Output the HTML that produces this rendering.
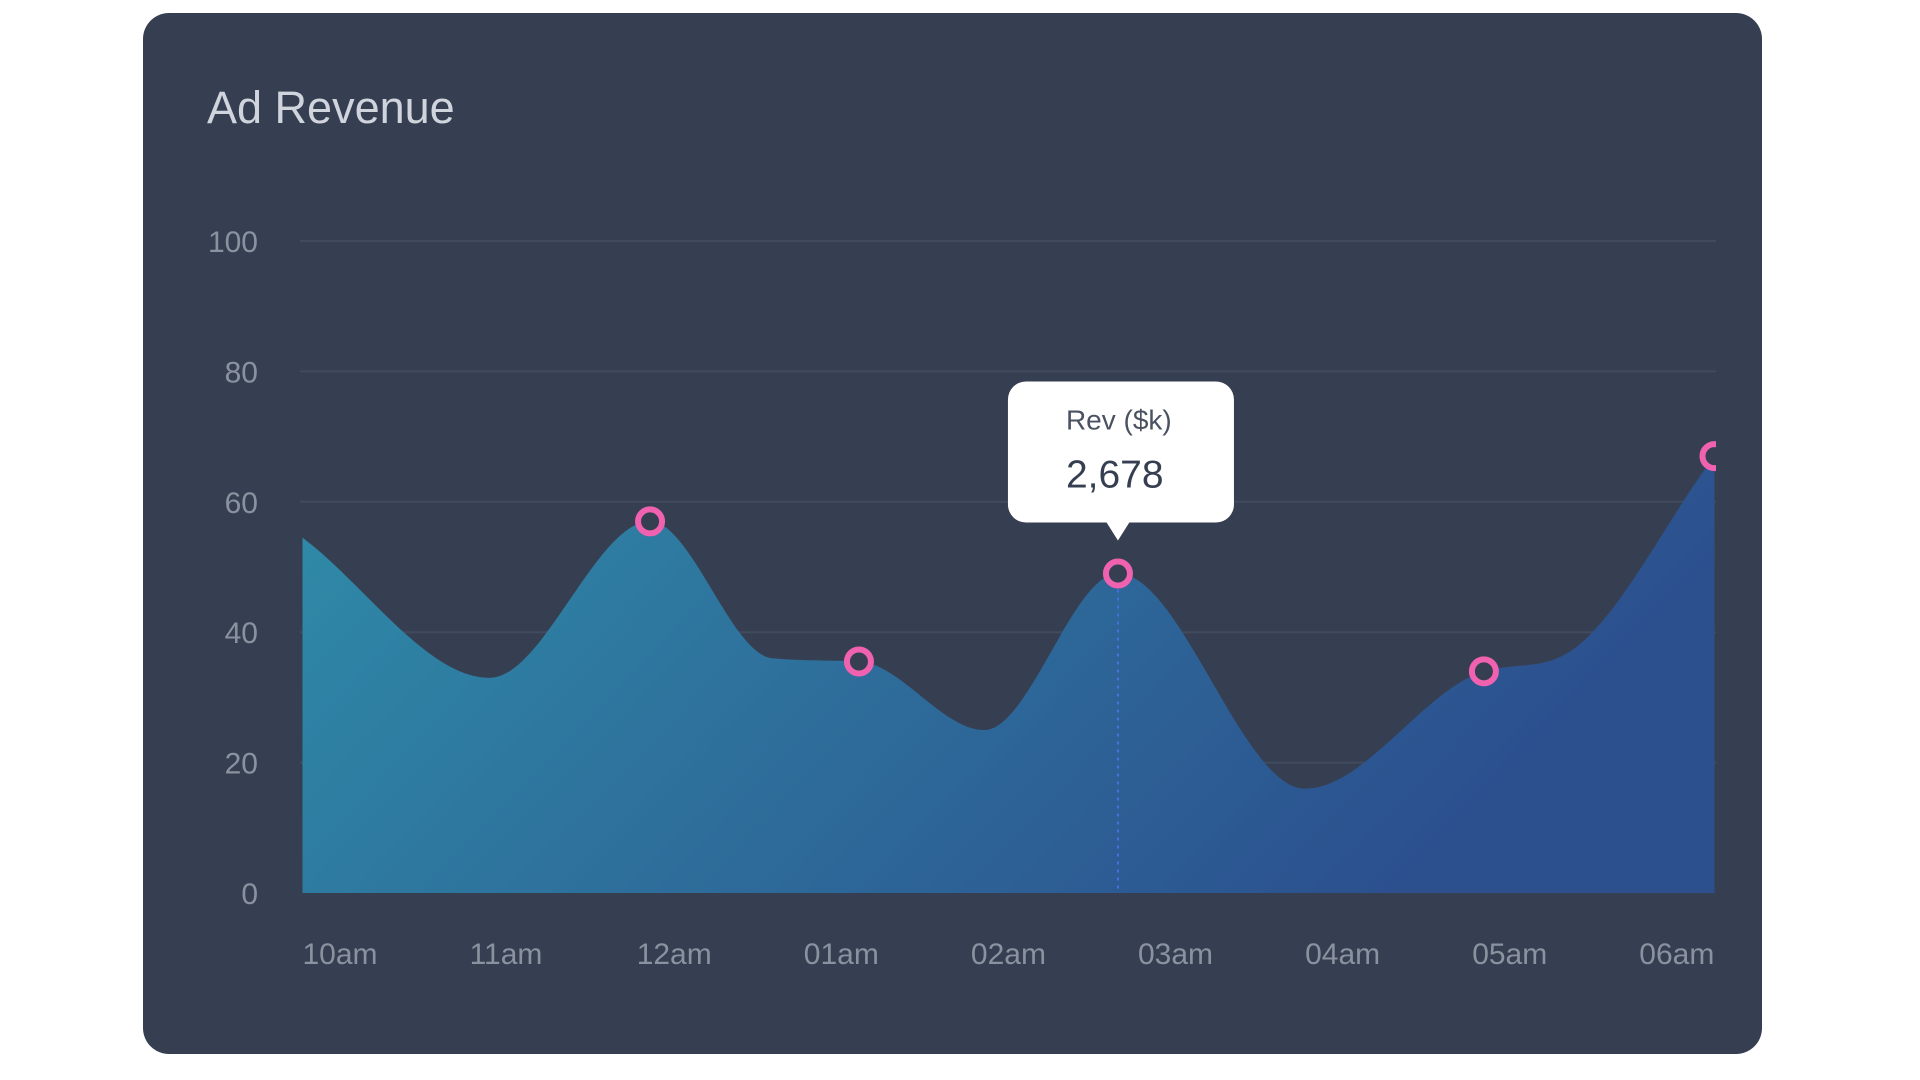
<!DOCTYPE html>
<html><head><meta charset="utf-8"><style>
html,body{margin:0;padding:0;background:#fff;width:1920px;height:1080px;overflow:hidden}
svg{display:block}
text{font-family:"Liberation Sans",sans-serif}
</style></head><body>
<svg id="chart" width="1920" height="1080" viewBox="0 0 1920 1080">
<defs>
<linearGradient id="areaGrad" x1="0" y1="0" x2="1" y2="0.3">
<stop offset="0" stop-color="#2f8ca8"/>
<stop offset="1" stop-color="#2c4f8e"/>
</linearGradient>
<clipPath id="plotClip"><rect x="290" y="200" width="1426" height="720"/></clipPath>
</defs>
<rect x="143" y="13" width="1619" height="1041" rx="26" fill="#363f51"/>
<text x="207" y="123" font-size="45" fill="#d0d4dc">Ad Revenue</text>
<g id="grid"></g>
<g id="yticks"></g>
<g id="xticks"></g>
<g id="series" clip-path="url(#plotClip)"></g>
<g id="tooltip"></g>
</svg>
<script>
const yTicks = [0, 20, 40, 60, 80, 100];
const xLabels = ["10am","11am","12am","01am","02am","03am","04am","05am","06am"];
const pointHours = [0, 1.12, 2.08, 2.81, 3.33, 4.08, 4.88, 6.0, 7.07, 7.55, 8.45];
const revValues = [54.5, 33, 57, 36, 35.5, 25, 49, 16, 34, 36.5, 67];
const markerIdx = [2, 4, 6, 8, 10];
const tooltipIdx = 6;
const tooltipLabel = "Rev ($k)";
const tooltipValue = "2,678";

const NS = "http://www.w3.org/2000/svg";
const X0 = 302.5, XPER = 167.1, XR = 1716;
const Y0 = 893, Y100 = 241;
function xs(h){ return X0 + h * XPER; }
function ys(v){ return Y0 - (v / 100) * (Y0 - Y100); }
function mk(tag, attrs, parent){
  const e = document.createElementNS(NS, tag);
  for (const k in attrs) e.setAttribute(k, attrs[k]);
  parent.appendChild(e); return e;
}
const grid = document.getElementById('grid');
const yt = document.getElementById('yticks');
yTicks.forEach(v => {
  if (v > 0) {
    const l = mk('line', {x1: 300, x2: XR, y1: ys(v), y2: ys(v), stroke: '#414b5e', 'stroke-width': 2}, grid);
    
    
  }
  const t = mk('text', {x: 258, y: ys(v) + 11, 'text-anchor': 'end', 'font-size': 30, fill: '#8a92a0'}, yt);
  t.textContent = v;
  
  
});
const xt = document.getElementById('xticks');
xLabels.forEach((s, i) => {
  const t = mk('text', {x: xs(i), y: 964, 'font-size': 30, fill: '#8a92a0'}, xt);
  t.textContent = s;
  
  
});
// mask for clipped last label
const cover = mk('rect', {x: XR, y: 925, width: 46, height: 50, fill: '#363f51'}, xt);



// monotone cubic
const px = pointHours.map(xs), py = revValues.map(ys);
const n = px.length, d = [], m = [];
for (let i = 0; i < n - 1; i++) d.push((py[i+1]-py[i])/(px[i+1]-px[i]));
for (let i = 0; i < n; i++) {
  if (i === 0) m.push(d[0]); else if (i === n-1) m.push(d[n-2]);
  else m.push(d[i-1]*d[i] <= 0 ? 0 : (d[i-1]+d[i])/2);
}
for (let i = 0; i < n - 1; i++) {
  if (d[i] === 0) { m[i] = 0; m[i+1] = 0; continue; }
  const a = m[i]/d[i], b = m[i+1]/d[i], s = a*a + b*b;
  if (s > 9) { const t = 3/Math.sqrt(s); m[i] = t*a*d[i]; m[i+1] = t*b*d[i]; }
}
let path = `M${px[0]},${py[0]}`;
for (let i = 0; i < n - 1; i++) {
  const h = (px[i+1]-px[i])/3;
  path += ` C${px[i]+h},${py[i]+m[i]*h} ${px[i+1]-h},${py[i+1]-m[i+1]*h} ${px[i+1]},${py[i+1]}`;
}
const series = document.getElementById('series');
const area = mk('path', {d: path + ` L${px[n-1]},${Y0} L${px[0]},${Y0} Z`, fill: 'url(#areaGrad)'}, series);


const vline = mk('line', {x1: px[tooltipIdx], x2: px[tooltipIdx], y1: py[tooltipIdx], y2: Y0, stroke: '#4a6fe0', 'stroke-width': 2, 'stroke-dasharray': '3 5'}, series);


markerIdx.forEach(i => {
  const c = mk('circle', {cx: px[i], cy: py[i], r: 12, fill: '#363f51', stroke: '#f062b0', 'stroke-width': 6}, series);
  
  
});
// tooltip
const tg = document.getElementById('tooltip');


const tx = px[tooltipIdx], ty = py[tooltipIdx];
const bx = tx - 110, bw = 226, bh = 141, by = ty - 192;
mk('rect', {x: bx, y: by, width: bw, height: bh, rx: 18, fill: '#ffffff'}, tg);
mk('path', {d: `M${tx-12},${by+bh-1} L${tx+12},${by+bh-1} L${tx},${by+bh+18} Z`, fill: '#ffffff'}, tg);
const t1 = mk('text', {x: bx + 58, y: by + 48, 'font-size': 28, fill: '#4a5262'}, tg);
t1.textContent = tooltipLabel;


const t2 = mk('text', {x: bx + 58, y: by + 106, 'font-size': 39, fill: '#363f51'}, tg);
t2.textContent = tooltipValue;


</script>
</body></html>
